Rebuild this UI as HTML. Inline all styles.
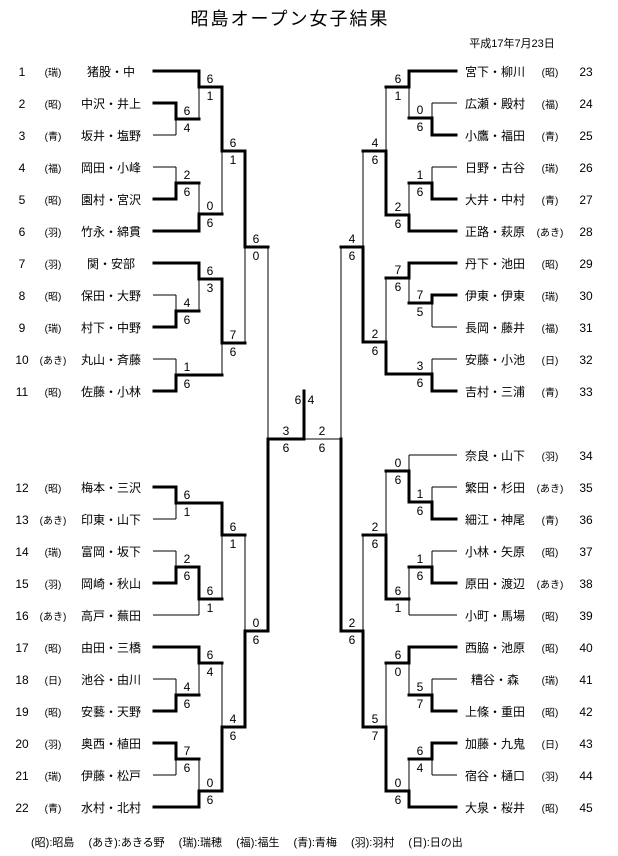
<!DOCTYPE html>
<html><head><meta charset="utf-8"><style>
html,body{margin:0;padding:0;background:#fff;}
svg{display:block;}
text{font-family:"Liberation Sans","Noto Sans CJK JP",sans-serif;fill:#000;}
.n{font-size:12px;text-anchor:middle;}
.a{font-size:10px;text-anchor:middle;}
.s{font-size:12px;text-anchor:middle;}
.k{stroke:#000;stroke-width:3;fill:none;stroke-linecap:square;}
.t{stroke:#000;stroke-width:1;fill:none;}
</style></head><body>
<svg width="618" height="856" viewBox="0 0 618 856" xmlns="http://www.w3.org/2000/svg">
<text x="290" y="25" style="font-size:18px;letter-spacing:2px" text-anchor="middle">昭島オープン女子結果</text>
<text x="512" y="47" style="font-size:11px" text-anchor="middle">平成17年7月23日</text>

<!-- LEFT names -->
<g class="n">
<text x="22" y="76">1</text><text x="111" y="76">猪股・中</text>
<text x="22" y="108">2</text><text x="111" y="108">中沢・井上</text>
<text x="22" y="140">3</text><text x="111" y="140">坂井・塩野</text>
<text x="22" y="172">4</text><text x="111" y="172">岡田・小峰</text>
<text x="22" y="204">5</text><text x="111" y="204">園村・宮沢</text>
<text x="22" y="236">6</text><text x="111" y="236">竹永・綿貫</text>
<text x="22" y="268">7</text><text x="111" y="268">関・安部</text>
<text x="22" y="300">8</text><text x="111" y="300">保田・大野</text>
<text x="22" y="332">9</text><text x="111" y="332">村下・中野</text>
<text x="22" y="364">10</text><text x="111" y="364">丸山・斉藤</text>
<text x="22" y="396">11</text><text x="111" y="396">佐藤・小林</text>
<text x="22" y="492">12</text><text x="111" y="492">梅本・三沢</text>
<text x="22" y="524">13</text><text x="111" y="524">印東・山下</text>
<text x="22" y="556">14</text><text x="111" y="556">富岡・坂下</text>
<text x="22" y="588">15</text><text x="111" y="588">岡崎・秋山</text>
<text x="22" y="620">16</text><text x="111" y="620">高戸・蕪田</text>
<text x="22" y="652">17</text><text x="111" y="652">由田・三橋</text>
<text x="22" y="684">18</text><text x="111" y="684">池谷・由川</text>
<text x="22" y="716">19</text><text x="111" y="716">安藝・天野</text>
<text x="22" y="748">20</text><text x="111" y="748">奥西・植田</text>
<text x="22" y="780">21</text><text x="111" y="780">伊藤・松戸</text>
<text x="22" y="812">22</text><text x="111" y="812">水村・北村</text>
</g>
<g class="a">
<text x="53" y="76">(瑞)</text><text x="53" y="108">(昭)</text><text x="53" y="140">(青)</text><text x="53" y="172">(福)</text><text x="53" y="204">(昭)</text><text x="53" y="236">(羽)</text><text x="53" y="268">(羽)</text><text x="53" y="300">(昭)</text><text x="53" y="332">(瑞)</text><text x="53" y="364">(あき)</text><text x="53" y="396">(昭)</text>
<text x="53" y="492">(昭)</text><text x="53" y="524">(あき)</text><text x="53" y="556">(瑞)</text><text x="53" y="588">(羽)</text><text x="53" y="620">(あき)</text><text x="53" y="652">(昭)</text><text x="53" y="684">(日)</text><text x="53" y="716">(昭)</text><text x="53" y="748">(羽)</text><text x="53" y="780">(瑞)</text><text x="53" y="812">(青)</text>
</g>

<!-- RIGHT names -->
<g class="n">
<text x="495" y="76">宮下・柳川</text><text x="586" y="76">23</text>
<text x="495" y="108">広瀬・殿村</text><text x="586" y="108">24</text>
<text x="495" y="140">小鷹・福田</text><text x="586" y="140">25</text>
<text x="495" y="172">日野・古谷</text><text x="586" y="172">26</text>
<text x="495" y="204">大井・中村</text><text x="586" y="204">27</text>
<text x="495" y="236">正路・萩原</text><text x="586" y="236">28</text>
<text x="495" y="268">丹下・池田</text><text x="586" y="268">29</text>
<text x="495" y="300">伊東・伊東</text><text x="586" y="300">30</text>
<text x="495" y="332">長岡・藤井</text><text x="586" y="332">31</text>
<text x="495" y="364">安藤・小池</text><text x="586" y="364">32</text>
<text x="495" y="396">吉村・三浦</text><text x="586" y="396">33</text>
<text x="495" y="460">奈良・山下</text><text x="586" y="460">34</text>
<text x="495" y="492">繁田・杉田</text><text x="586" y="492">35</text>
<text x="495" y="524">細江・神尾</text><text x="586" y="524">36</text>
<text x="495" y="556">小林・矢原</text><text x="586" y="556">37</text>
<text x="495" y="588">原田・渡辺</text><text x="586" y="588">38</text>
<text x="495" y="620">小町・馬場</text><text x="586" y="620">39</text>
<text x="495" y="652">西脇・池原</text><text x="586" y="652">40</text>
<text x="495" y="684">糟谷・森</text><text x="586" y="684">41</text>
<text x="495" y="716">上條・重田</text><text x="586" y="716">42</text>
<text x="495" y="748">加藤・九鬼</text><text x="586" y="748">43</text>
<text x="495" y="780">宿谷・樋口</text><text x="586" y="780">44</text>
<text x="495" y="812">大泉・桜井</text><text x="586" y="812">45</text>
</g>
<g class="a">
<text x="550" y="76">(昭)</text><text x="550" y="108">(福)</text><text x="550" y="140">(青)</text><text x="550" y="172">(瑞)</text><text x="550" y="204">(青)</text><text x="550" y="236">(あき)</text><text x="550" y="268">(昭)</text><text x="550" y="300">(瑞)</text><text x="550" y="332">(福)</text><text x="550" y="364">(日)</text><text x="550" y="396">(青)</text>
<text x="550" y="460">(羽)</text><text x="550" y="492">(あき)</text><text x="550" y="524">(青)</text><text x="550" y="556">(昭)</text><text x="550" y="588">(あき)</text><text x="550" y="620">(昭)</text><text x="550" y="652">(昭)</text><text x="550" y="684">(瑞)</text><text x="550" y="716">(昭)</text><text x="550" y="748">(日)</text><text x="550" y="780">(羽)</text><text x="550" y="812">(昭)</text>
</g>

<!-- THIN lines -->
<path class="t" d="
M153 135H176 M153 167H176 M153 295H176 M153 359H176
M153 519H176 M153 551H176 M153 615H199 M153 679H176 M153 775H176
M176 103V135 M199 71V119 M176 167V199 M199 183V231 M222 87V214
M176 295V327 M199 263V311 M176 359V391 M222 279V375 M245 151V343
M176 487V519 M176 551V583 M199 567V615 M222 503V599
M176 679V711 M199 647V695 M176 743V775 M199 759V807 M222 663V791 M245 535V727
M268 247V631
M457 103H432 M457 167H432 M457 327H432 M457 359H432
M457 455H409 M457 487H432 M457 551H432 M457 615H409 M457 679H432 M457 775H432
M432 103V135 M409 71V118 M432 167V199 M409 183V231 M386 87V215
M432 295V327 M409 263V303 M432 359V391 M386 278V374 M363 151V342
M432 487V519 M409 455V502 M432 551V583 M409 567V615 M386 471V599
M432 679V711 M409 647V695 M432 743V775 M409 759V807 M386 663V791 M363 535V727
M341 247V631 M341 439H304"/>

<!-- THICK lines -->
<path class="k" d="
M154 71H199V87H222 M154 103H176V119H199 M222 87V151H245
M154 199H176V183H199 M154 231H199V214H222
M154 263H199V279H222 M154 327H176V311H199 M154 391H176V375H222
M222 279V343H245 M245 151V247H268
M154 487H176V503H222 M154 583H176V567H199V599H222 M222 503V535H245
M154 647H199V663H222 M154 711H176V695H199 M154 743H176V759H199 M154 807H199V791H222
M222 791V727H245 M245 727V631H268 M268 631V439H304 M304 439V391
M456 71H409V87H386 M456 135H432V118H409 M456 199H432V183H409 M456 231H409V215H386
M386 215V151H363 M456 263H409V278H386 M456 295H432V303H409 M456 391H432V374H386
M386 374V342H363 M363 342V247H341
M456 519H432V502H409V471H386 M456 583H432V567H409 M409 599H386 M386 599V535H363
M456 647H409V663H386 M456 711H432V695H409 M456 743H432V759H409 M456 807H409V791H386
M386 791V727H363 M363 727V631H341 M341 631V439"/>

<!-- scores -->
<g class="s">
<text x="187" y="115">6</text><text x="187" y="132">4</text>
<text x="210" y="83">6</text><text x="210" y="100">1</text>
<text x="187" y="179">2</text><text x="187" y="196">6</text>
<text x="210" y="210">0</text><text x="210" y="227">6</text>
<text x="233" y="147">6</text><text x="233" y="164">1</text>
<text x="187" y="307">4</text><text x="187" y="324">6</text>
<text x="210" y="275">6</text><text x="210" y="292">3</text>
<text x="187" y="371">1</text><text x="187" y="388">6</text>
<text x="233" y="339">7</text><text x="233" y="356">6</text>
<text x="256" y="243">6</text><text x="256" y="260">0</text>
<text x="187" y="499">6</text><text x="187" y="516">1</text>
<text x="187" y="563">2</text><text x="187" y="580">6</text>
<text x="210" y="595">6</text><text x="210" y="612">1</text>
<text x="233" y="531">6</text><text x="233" y="548">1</text>
<text x="187" y="691">4</text><text x="187" y="708">6</text>
<text x="210" y="659">6</text><text x="210" y="676">4</text>
<text x="187" y="755">7</text><text x="187" y="772">6</text>
<text x="210" y="787">0</text><text x="210" y="804">6</text>
<text x="233" y="723">4</text><text x="233" y="740">6</text>
<text x="256" y="627">0</text><text x="256" y="644">6</text>
<text x="286" y="435">3</text><text x="286" y="452">6</text>
<text x="298" y="404">6</text><text x="311" y="404">4</text>
<text x="322" y="435">2</text><text x="322" y="452">6</text>
<text x="420" y="114">0</text><text x="420" y="131">6</text>
<text x="398" y="83">6</text><text x="398" y="100">1</text>
<text x="420" y="179">1</text><text x="420" y="196">6</text>
<text x="398" y="211">2</text><text x="398" y="228">6</text>
<text x="375" y="147">4</text><text x="375" y="164">6</text>
<text x="420" y="299">7</text><text x="420" y="316">5</text>
<text x="398" y="274">7</text><text x="398" y="291">6</text>
<text x="420" y="370">3</text><text x="420" y="387">6</text>
<text x="375" y="338">2</text><text x="375" y="355">6</text>
<text x="352" y="243">4</text><text x="352" y="260">6</text>
<text x="420" y="498">1</text><text x="420" y="515">6</text>
<text x="398" y="467">0</text><text x="398" y="484">6</text>
<text x="420" y="563">1</text><text x="420" y="580">6</text>
<text x="398" y="595">6</text><text x="398" y="612">1</text>
<text x="375" y="531">2</text><text x="375" y="548">6</text>
<text x="420" y="691">5</text><text x="420" y="708">7</text>
<text x="398" y="659">6</text><text x="398" y="676">0</text>
<text x="420" y="755">6</text><text x="420" y="772">4</text>
<text x="398" y="787">0</text><text x="398" y="804">6</text>
<text x="375" y="723">5</text><text x="375" y="740">7</text>
<text x="352" y="627">2</text><text x="352" y="644">6</text>
</g>

<text x="31" y="846" style="font-size:11px">(昭):昭島　 (あき):あきる野　 (瑞):瑞穂　 (福):福生　 (青):青梅　 (羽):羽村　 (日):日の出</text>
</svg>
</body></html>
